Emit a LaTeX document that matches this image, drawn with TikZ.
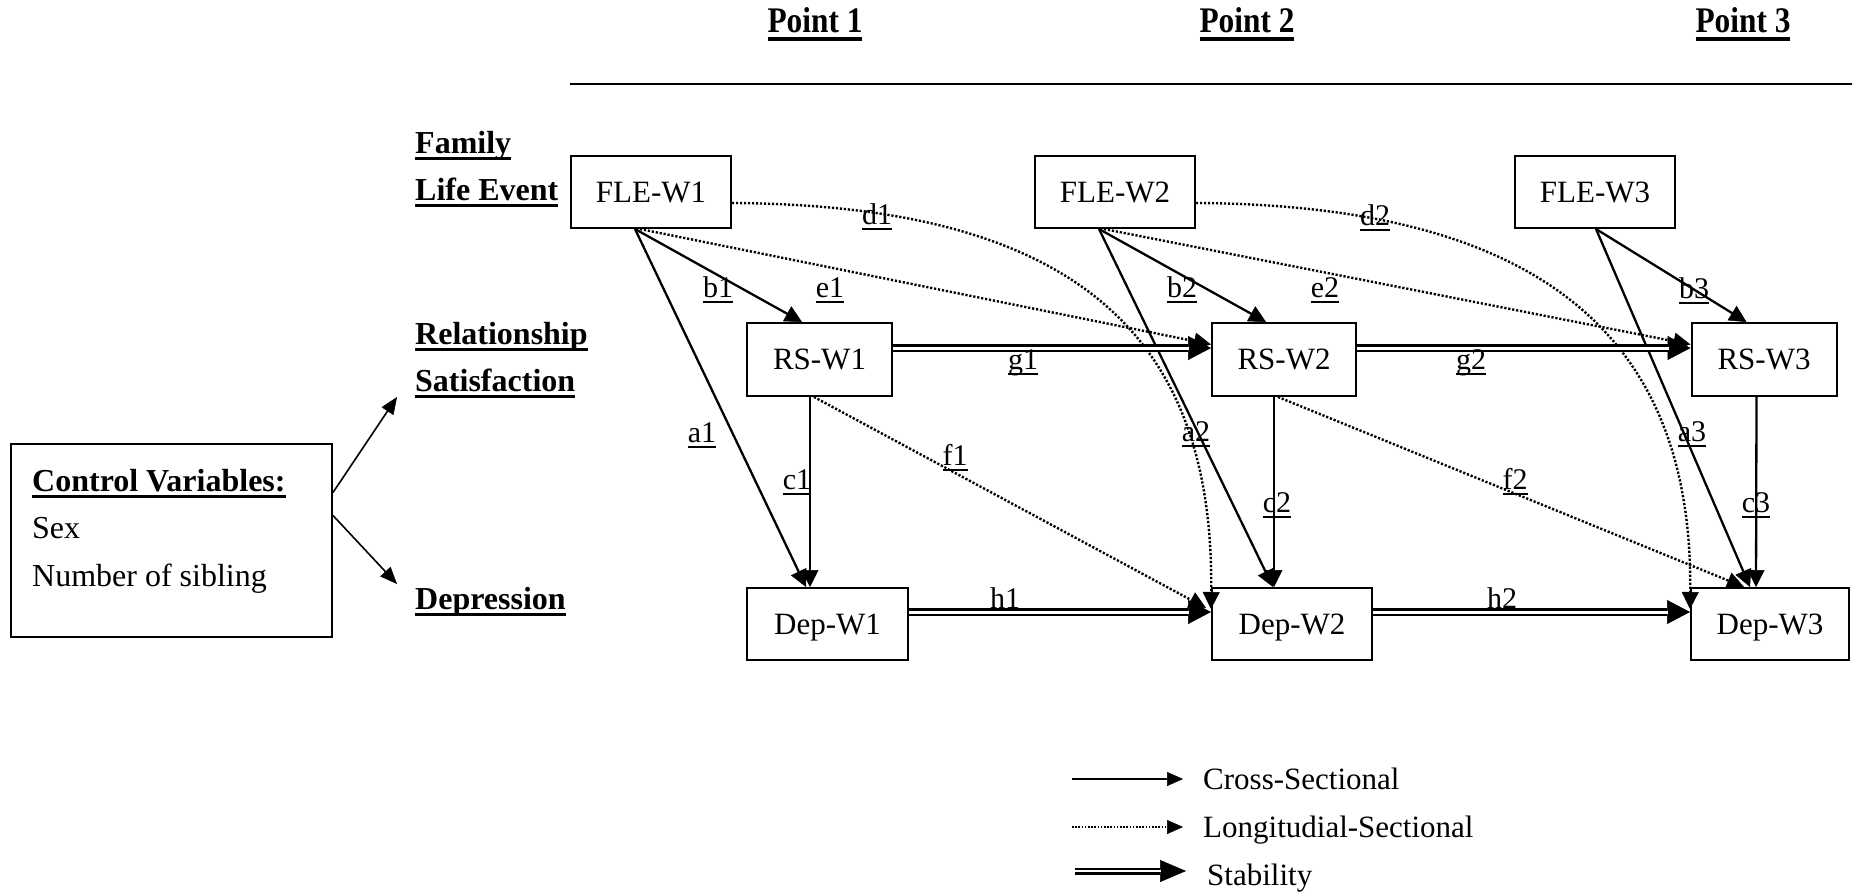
\documentclass[tikz,border=0pt]{standalone}
\usepackage{fontspec}
\setmainfont{Liberation Serif}
\usetikzlibrary{arrows.meta}
\newsavebox{\ulbox}
% #1 = lowering of rule bottom (negative), #2 = thickness, #3 = text
\newcommand{\ulgen}[3]{\sbox{\ulbox}{#3}\rlap{\rule[#1]{\wd\ulbox}{#2}}\usebox{\ulbox}}
\newcommand{\ulnorm}[1]{\ulgen{-5.5pt}{2pt}{#1}}
\newcommand{\ulbold}[1]{\ulgen{-7pt}{3pt}{#1}}
\newcommand{\ulpoint}[1]{\ulgen{-9pt}{4pt}{#1}}
\tikzset{
  box/.style={draw, line width=2pt, minimum height=72pt, inner sep=0pt, text depth=0pt,
    font=\fontsize{31}{37}\selectfont},
  lbl/.style={anchor=base, inner sep=0pt, font=\fontsize{30}{36}\selectfont},
  hdr/.style={anchor=base west, inner sep=0pt, font=\fontsize{32}{38}\selectfont\bfseries},
  pointhdr/.style={anchor=base, inner sep=0pt, font=\fontsize{36}{40}\selectfont\bfseries},
  legtext/.style={anchor=base west, inner sep=0pt, font=\fontsize{31}{37}\selectfont},
  ctext/.style={anchor=base west, inner sep=0pt, font=\fontsize{32}{38}\selectfont},
  cross/.style={line width=2.3pt, -{Triangle[length=17pt,width=17pt,line width=0.5pt]}},
  longi/.style={line width=2.4pt, dash pattern=on 2.2pt off 1.8pt, -{Triangle[length=17pt,width=17pt,line width=0.5pt]}},
  stab/.style={line width=8pt, -{Triangle[length=23pt,width=24pt,line width=0.5pt]},
    postaction={draw=white, line width=3pt, -, shorten >=22pt}},
  ctrl/.style={line width=1.6pt, -{Triangle[length=17pt,width=14pt,line width=0.5pt]}},
  crossleg/.style={line width=2pt, -{Triangle[length=16pt,width=14pt,line width=0.5pt]}},
  longileg/.style={line width=1.8pt, dash pattern=on 1.6pt off 1.6pt, -{Triangle[length=16pt,width=14pt,line width=0.5pt]}},
  stableg/.style={line width=7pt, -{Triangle[length=26pt,width=22pt,line width=0.5pt]},
    postaction={draw=white, line width=2.5pt, -, shorten >=25pt}},
}
\begin{document}
\begin{tikzpicture}[x=1pt,y=-1pt]
\useasboundingbox (0,0) rectangle (1852,894);
\fill[white] (0,0) rectangle (1852,894);

% headers
\node[pointhdr] (p1) at (815,32) {\scalebox{0.87}[1]{\ulpoint{Point 1}}};
\node[pointhdr] (p2) at (1247,32) {\scalebox{0.87}[1]{\ulpoint{Point 2}}};
\node[pointhdr] (p3) at (1743,32) {\scalebox{0.87}[1]{\ulpoint{Point 3}}};
\coordinate (tl) at (570,84);
\coordinate (tr) at (1852,84);
\draw[line width=2pt] (tl) -- (tr);

% row labels
\node[hdr] (fam) at (415,153) {\ulbold{Family}};
\node[hdr] (life) at (415,200) {\ulbold{Life Event}};
\node[hdr] (rel) at (415,344) {\ulbold{Relationship}};
\node[hdr] (sat) at (415,391) {\ulbold{Satisfaction}};
\node[hdr] (dep) at (415,609) {\ulbold{Depression}};

% boxes
\node[box, minimum width=160pt] (F1) at (651,192) {FLE-W1};
\node[box, minimum width=160pt] (F2) at (1115,192) {FLE-W2};
\node[box, minimum width=160pt] (F3) at (1595,192) {FLE-W3};
\node[box, minimum width=145pt, minimum height=73pt] (R1) at (819.5,359.5) {RS-W1};
\node[box, minimum width=144pt, minimum height=73pt] (R2) at (1284,359.5) {RS-W2};
\node[box, minimum width=145pt, minimum height=73pt] (R3) at (1764,359.5) {RS-W3};
\node[box, minimum width=161pt] (D1) at (827.5,624) {Dep-W1};
\node[box, minimum width=160pt] (D2) at (1292,624) {Dep-W2};
\node[box, minimum width=158pt] (D3) at (1770,624) {Dep-W3};

% control box
\node[draw, line width=2pt, minimum width=321pt, minimum height=193pt, inner sep=0pt] (C) at (171.5,540.5) {};
\node[ctext, font=\fontsize{32}{38}\selectfont\bfseries] (cv) at (32,491) {\ulbold{Control Variables:}};
\node[ctext] (sex) at (32,538) {Sex};
\node[ctext] (nos) at (32,586) {Number of sibling};
\coordinate (cu) at (397,397);
\coordinate (cd) at (397,584);
\draw[ctrl] ([yshift=48pt]C.east) -- (cu);
\draw[ctrl] ([yshift=25pt]C.east) -- (cd);

% cross-sectional
\draw[cross] ([xshift=65pt]F1.south west) -- ([xshift=56pt]R1.north west);
\draw[cross] ([xshift=65pt]F1.south west) -- ([xshift=60pt]D1.north west);
\draw[cross] ([xshift=64pt]R1.south west) -- ([xshift=64pt]D1.north west);
\draw[cross] ([xshift=65pt]F2.south west) -- ([xshift=55pt]R2.north west);
\draw[cross] ([xshift=65pt]F2.south west) -- ([xshift=62pt]D2.north west);
\draw[cross] ([xshift=63pt]R2.south west) -- ([xshift=63pt]D2.north west);
\draw[cross] ([xshift=82pt]F3.south west) -- ([xshift=56pt]R3.north west);
\draw[cross] ([xshift=82pt]F3.south west) -- ([xshift=60pt]D3.north west);
\draw[cross] ([xshift=66pt]R3.south west) -- ([xshift=66pt]D3.north west);

% longitudinal
\draw[longi] ([xshift=70pt]F1.south west) -- ([yshift=15pt]R2.west);
\draw[longi] ([xshift=70pt]F2.south west) -- ([yshift=15pt]R3.west);
\draw[longi] ([xshift=68pt]R1.south west) -- ([xshift=-5pt,yshift=16pt]D2.west);
\draw[longi] ([xshift=67pt]R2.south west) -- ([xshift=54pt]D3.north west);
\draw[longi] ([yshift=-11pt]F1.east) .. controls +(360,2) and +(3,-260) .. ([yshift=15pt]D2.west);
\draw[longi] ([yshift=-11pt]F2.east) .. controls +(360,2) and +(3,-260) .. ([yshift=15pt]D3.west);

% stability
\draw[stab] ([yshift=11.5pt]R1.east) -- ([yshift=11.5pt]R2.west);
\draw[stab] ([yshift=11.5pt]R2.east) -- ([yshift=11.5pt]R3.west);
\draw[stab] ([yshift=12pt]D1.east) -- ([yshift=12pt]D2.west);
\draw[stab] ([yshift=12pt]D2.east) -- ([yshift=12pt]D3.west);

% edge labels
\node[lbl] (ld1) at (877,224) {\ulnorm{d1}};
\node[lbl] (ld2) at (1375,225) {\ulnorm{d2}};
\node[lbl] (lb1) at (718,297) {\ulnorm{b1}};
\node[lbl] (le1) at (830,297) {\ulnorm{e1}};
\node[lbl] (lb2) at (1182,297) {\ulnorm{b2}};
\node[lbl] (le2) at (1325,297) {\ulnorm{e2}};
\node[lbl] (lb3) at (1694,298) {\ulnorm{b3}};
\node[lbl] (lg1) at (1023,369) {\ulnorm{g1}};
\node[lbl] (lg2) at (1471,369) {\ulnorm{g2}};
\node[lbl] (la1) at (702,442) {\ulnorm{a1}};
\node[lbl] (la2) at (1196,441) {\ulnorm{a2}};
\node[lbl] (la3) at (1692,441) {\ulnorm{a3}};
\node[lbl] (lc1) at (797,489) {\ulnorm{c1}};
\node[lbl] (lc2) at (1277,512) {\ulnorm{c2}};
\node[lbl] (lc3) at (1756,512) {\ulnorm{c3}};
\node[lbl] (lf1) at (955,465) {\ulnorm{f1}};
\node[lbl] (lf2) at (1515,489) {\ulnorm{f2}};
\node[lbl] (lh1) at (1005,608) {h1};
\node[lbl] (lh2) at (1502,608) {h2};

% legend
\coordinate (l1a) at (1072,779);
\coordinate (l1b) at (1183,779);
\coordinate (l2a) at (1072,827);
\coordinate (l2b) at (1183,827);
\coordinate (l3a) at (1075,871);
\coordinate (l3b) at (1186,871);
\draw[crossleg] (l1a) -- (l1b);
\draw[longileg] (l2a) -- (l2b);
\draw[stableg] (l3a) -- (l3b);
\node[legtext] (t1) at (1203,789) {Cross-Sectional};
\node[legtext] (t2) at (1203,837) {Longitudial-Sectional};
\node[legtext] (t3) at (1207,885) {Stability};
\end{tikzpicture}
\end{document}
